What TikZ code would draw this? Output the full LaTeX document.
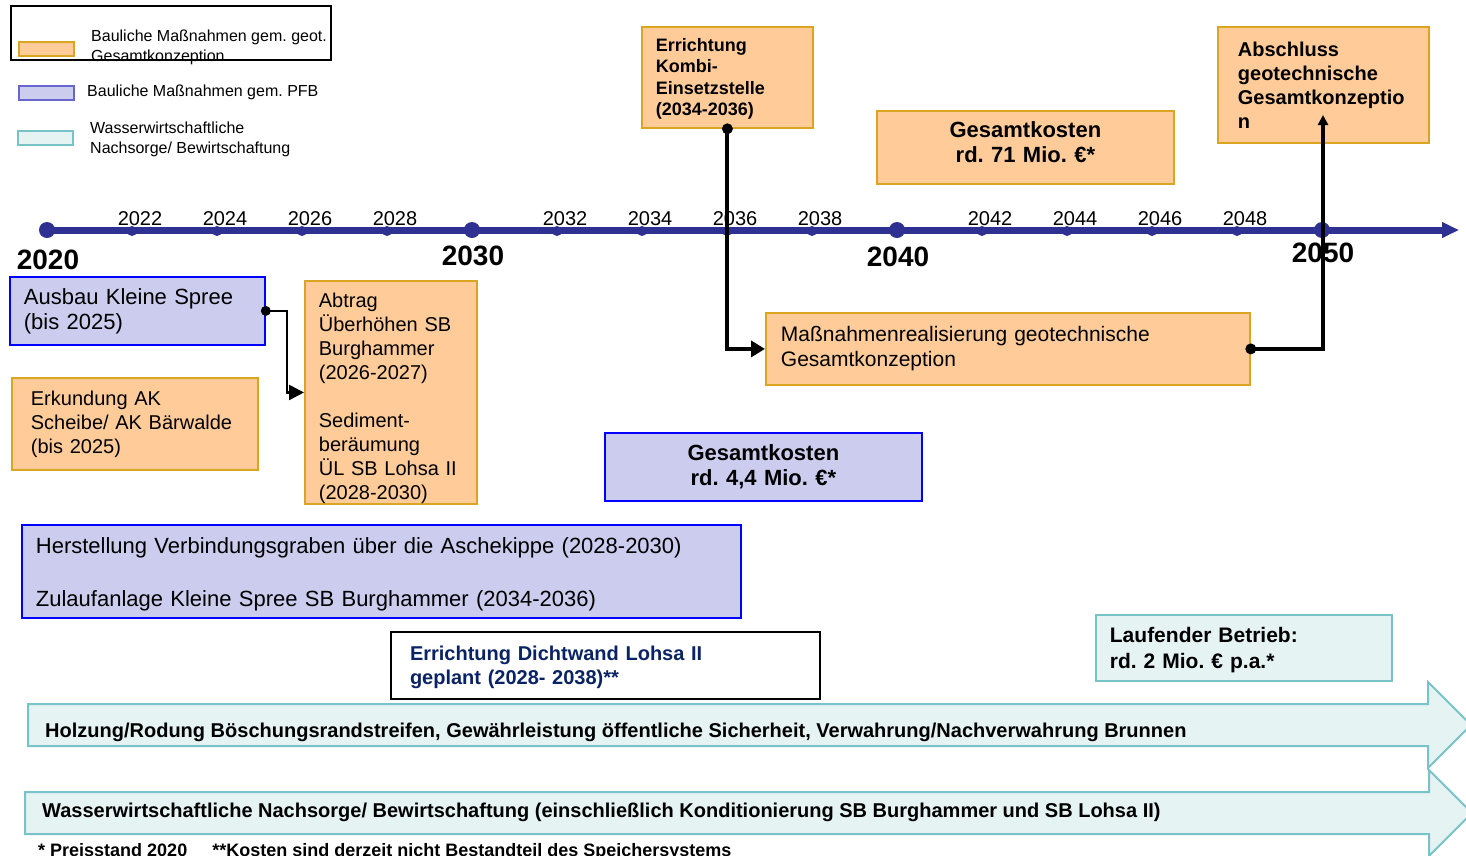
\documentclass[tikz,border=0pt]{standalone}
\usepackage{fontspec}
\setmainfont{Liberation Sans}
\usetikzlibrary{arrows.meta}
\frenchspacing
\definecolor{orfill}{RGB}{255,204,153}
\definecolor{ordraw}{RGB}{218,165,32}
\definecolor{lvfill}{RGB}{204,204,238}
\definecolor{lvdraw}{RGB}{102,102,204}
\definecolor{tqfill}{RGB}{230,243,243}
\definecolor{tqdraw}{RGB}{120,195,200}
\definecolor{tline}{RGB}{46,49,146}
\definecolor{navy}{RGB}{10,35,100}
\newcommand{\fsz}[2]{\fontsize{#1}{#2}\selectfont}
\tikzset{boxor/.style={draw=ordraw,fill=orfill,line width=1.8pt,anchor=north west,align=left,inner ysep=0pt}}
\tikzset{boxlv/.style={draw=blue,fill=lvfill,line width=1.8pt,anchor=north west,align=left,inner ysep=0pt}}
\tikzset{boxtq/.style={draw=tqdraw,fill=tqfill,line width=1.8pt,anchor=north west,align=left,inner ysep=0pt}}
\tikzset{legsw/.style={line width=1.5pt,minimum width=55pt,minimum height=14pt,anchor=north west,inner sep=0pt}}
\tikzset{legtxt/.style={anchor=west,align=left,inner sep=0pt,font=\fsz{16}{20}}}
\tikzset{dotbig/.style={circle,fill=tline,inner sep=0pt,minimum size=16pt}}
\tikzset{dotsmall/.style={circle,fill=tline,inner sep=0pt,minimum size=10pt}}
\tikzset{yrsmall/.style={inner sep=0pt,font=\fsz{20}{24}}}
\tikzset{yrbig/.style={inner sep=0pt,font=\fsz{28}{32}\bfseries}}

\begin{document}
\begin{tikzpicture}[x=1pt,y=-1pt]
\useasboundingbox (0,0) rectangle (1466,855);

% Legend
\node[draw=black,line width=2pt,minimum width=320pt,minimum height=54pt,anchor=north west,inner sep=0pt] (legbox) at (10,5) {};
\node[legsw,draw=ordraw,fill=orfill] (legor) at (18,41) {};
\node[legtxt] (legortxt) at (91,47) {Bauliche Maßnahmen gem. geot.\\Gesamtkonzeption};
\node[legsw,draw=lvdraw,fill=lvfill] (leglv) at (18,85) {};
\node[legtxt] (leglvtxt) at (87,92) {Bauliche Maßnahmen gem. PFB};
\node[legsw,draw=tqdraw,fill=tqfill] (legtq) at (17,130) {};
\node[legtxt] (legtqtxt) at (90,139) {Wasserwirtschaftliche\\Nachsorge/ Bewirtschaftung};

% Timeline 2020-2050
\coordinate (tstart) at (47,230);
\coordinate (tend) at (1459,230);
\draw[tline,line width=7pt,-{Triangle[length=17pt,width=15pt]}] (tstart) -- (tend);
\foreach \yr in {2022,2024,2026,2028,2032,2034,2036,2038,2042,2044,2046,2048} {
  \node[dotsmall] (d\yr) at ({47+(\yr-2020)*42.5},231) {};
  \node[yrsmall] (l\yr) at ({55+(\yr-2020)*42.5},219) {\yr};
}
\foreach \yr/\ly in {2020/260,2030/256,2040/257,2050/253} {
  \node[dotbig] (d\yr) at ({47+(\yr-2020)*42.5},230) {};
  \node[yrbig] (l\yr) at ({48+(\yr-2020)*42.5},\ly) {\yr};
}

% Boxes above the timeline
\node[boxor,text width=143pt,inner xsep=14pt,minimum height=101pt,font=\fsz{18}{21.5}\bfseries,text height=16pt] (kombi) at (641,26)
  {Errichtung\\Kombi-\\Einsetzstelle\\(2034-2036)};
\node[boxor,text width=277pt,inner xsep=10pt,minimum height=73pt,align=center,font=\fsz{22}{25}\bfseries,text height=16pt,text depth=36pt] (kost71) at (876,110)
  {Gesamtkosten\\rd. 71 Mio. €*};
\node[boxor,text width=171pt,inner xsep=20pt,minimum height=116pt,font=\fsz{20}{24}\bfseries] (abschl) at (1217,26)
  {Abschluss\\geotechnische\\Gesamtkonzeptio\\n};

% Boxes below the timeline
\node[boxlv,text width=227pt,inner xsep=14pt,minimum height=68pt,font=\fsz{22}{25}] (ausbau) at (9,276)
  {Ausbau Kleine Spree\\(bis 2025)};
\node[boxor,text width=208pt,inner xsep=19pt,minimum height=92pt,font=\fsz{20}{24}] (erkund) at (11,377)
  {Erkundung AK\\Scheibe/ AK Bärwalde\\(bis 2025)};
\node[boxor,text width=144pt,inner xsep=14pt,minimum height=222pt,font=\fsz{20}{24},text height=27pt] (abtrag) at (304,280)
  {Abtrag\\Überhöhen SB\\Burghammer\\(2026-2027)\\[24pt]Sediment-\\beräumung\\ÜL SB Lohsa II\\(2028-2030)};
\node[boxor,text width=454pt,inner xsep=15pt,minimum height=72pt,font=\fsz{21}{25}] (massn) at (765,312)
  {Maßnahmenrealisierung geotechnische\\Gesamtkonzeption};
\node[boxlv,text width=297pt,inner xsep=10pt,minimum height=68pt,align=center,font=\fsz{22}{25}\bfseries] (kost44) at (604,432)
  {Gesamtkosten\\rd. 4,4 Mio. €*};
\node[boxlv,text width=691pt,inner xsep=14pt,minimum height=93pt,font=\fsz{22}{26.5},text height=22pt] (herst) at (21,524)
  {Herstellung Verbindungsgraben über die Aschekippe (2028-2030)\\[26.5pt]Zulaufanlage Kleine Spree SB Burghammer (2034-2036)};
\node[draw=black,fill=white,line width=2pt,anchor=north west,align=left,inner ysep=0pt,text width=391pt,inner xsep=19pt,minimum height=67pt,text=navy,font=\fsz{20}{24}\bfseries,text height=18pt] (dicht) at (390,631)
  {Errichtung Dichtwand Lohsa II\\geplant (2028- 2038)**};
\node[boxtq,text width=268pt,inner xsep=14pt,minimum height=66pt,font=\fsz{21}{26}\bfseries,text height=19pt] (lauf) at (1095,614)
  {Laufender Betrieb:\\rd. 2 Mio. € p.a.*};

% Long arrows at the bottom
\draw[draw=tqdraw,fill=tqfill,line width=2pt] (28,704) -- (1428,704) -- (1428,682) -- (1471,725) -- (1428,768) -- (1428,746) -- (28,746) -- cycle;
\node[anchor=west,inner sep=0pt,font=\fsz{20}{24}\bfseries] (pfeil1) at (45,732)
  {Holzung/Rodung Böschungsrandstreifen, Gewährleistung öffentliche Sicherheit, Verwahrung/Nachverwahrung Brunnen};
\draw[draw=tqdraw,fill=tqfill,line width=2pt] (25,792) -- (1429,792) -- (1429,770) -- (1472,813) -- (1429,856) -- (1429,834) -- (25,834) -- cycle;
\node[anchor=west,inner sep=0pt,font=\fsz{20}{24}\bfseries] (pfeil2) at (42,812)
  {Wasserwirtschaftliche Nachsorge/ Bewirtschaftung (einschließlich Konditionierung SB Burghammer und SB Lohsa II)};

% Footnote (cut at the lower edge)
\node[anchor=base west,inner sep=0pt,font=\fsz{18}{22}\bfseries] (fuss) at (38,856)
  {* Preisstand 2020\hspace{25pt}**Kosten sind derzeit nicht Bestandteil des Speichersystems};

% Connectors (drawn last, on top)
\coordinate (abstip) at (1323,115);
\draw[line width=2.5pt,-{Triangle[length=15pt,width=15pt]}] (ausbau.east) -- ++(21,0) |- (abtrag.west);
\fill (ausbau.east) circle (5pt);
\draw[line width=4pt,-{Triangle[length=14pt,width=16pt]}] (kombi.south) |- (massn.west);
\fill (kombi.south) circle (5.5pt);
\draw[line width=4pt,-{Triangle[length=10pt,width=10pt]}] (massn.east) -| (abstip);
\fill (massn.east) circle (5.5pt);

\end{tikzpicture}
\end{document}
